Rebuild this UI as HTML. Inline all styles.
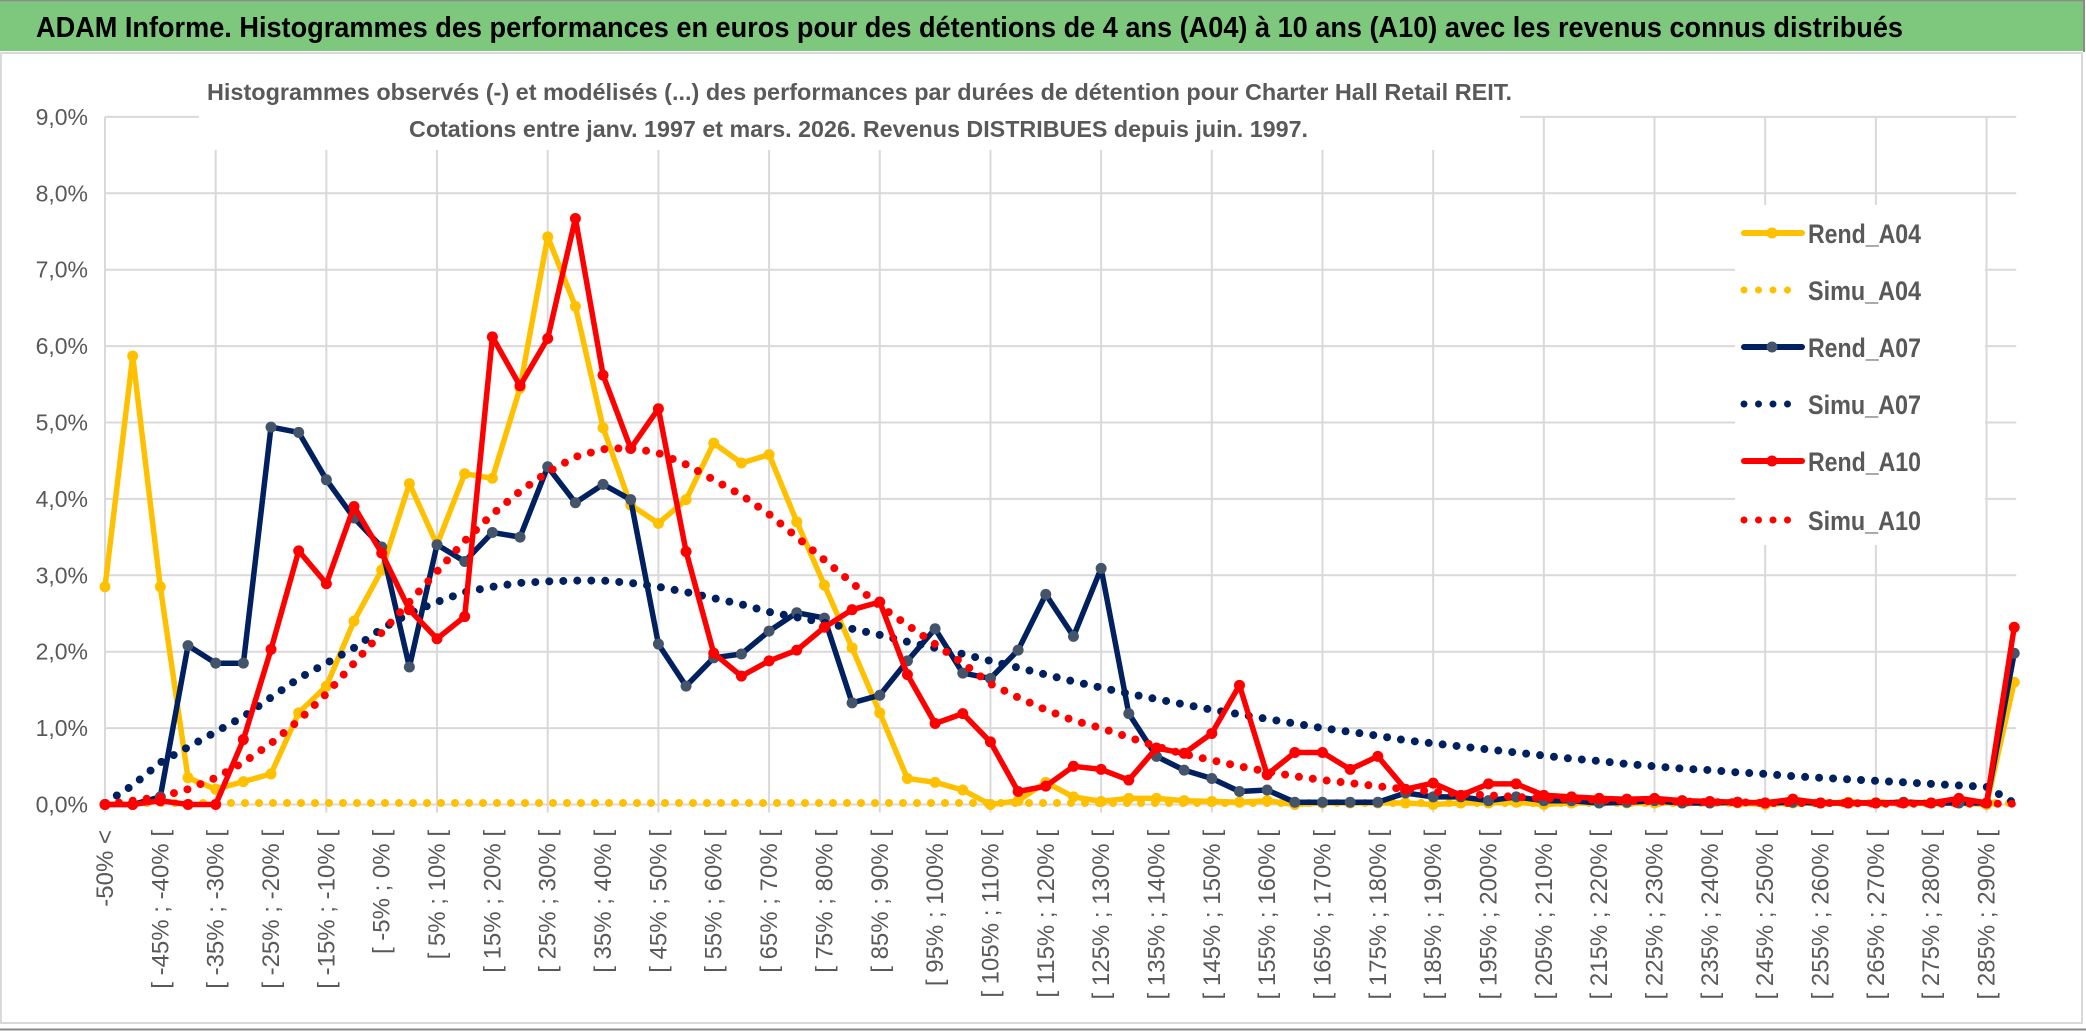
<!DOCTYPE html>
<html><head><meta charset="utf-8"><style>
html,body{margin:0;padding:0;background:#fff;}
svg{display:block;}
text{font-family:"Liberation Sans Narrow","Liberation Sans",sans-serif;}
</style></head><body>
<svg id="chart" width="2086" height="1031" viewBox="0 0 2086 1031" xmlns="http://www.w3.org/2000/svg">
  <rect x="0" y="0" width="2086" height="1031" fill="#fff"/>
  <rect x="0" y="0" width="2083" height="51" fill="#7DC87D"/>
  <line x1="0" y1="0.5" x2="2084" y2="0.5" stroke="#8a8a8a" stroke-width="1.5"/>
  <line x1="2084" y1="0" x2="2084" y2="52" stroke="#8a8a8a" stroke-width="2"/>
  <text x="36" y="37" font-size="29" font-weight="bold" fill="#000" textLength="1867" lengthAdjust="spacingAndGlyphs">ADAM Informe. Histogrammes des performances en euros pour des détentions de 4 ans (A04) à 10 ans (A10) avec les revenus connus distribués</text>
  <rect x="1" y="53" width="2081" height="970" fill="none" stroke="#d9d9d9" stroke-width="2"/>
  <line x1="0" y1="1029.5" x2="2086" y2="1029.5" stroke="#8a8a8a" stroke-width="2"/>
  <g id="grid"></g>
  <g id="yaxis"></g>
  <g id="xaxis"></g>
  <rect x="199" y="70" width="1321" height="80" fill="#fff"/>
  <text x="207" y="100" font-size="23" font-weight="bold" fill="#595959" textLength="1305" lengthAdjust="spacingAndGlyphs">Histogrammes observés (-) et modélisés (...) des performances par durées de détention pour Charter Hall Retail REIT.</text>
  <text x="409" y="137" font-size="23" font-weight="bold" fill="#595959" textLength="899" lengthAdjust="spacingAndGlyphs">Cotations entre janv. 1997 et mars. 2026. Revenus DISTRIBUES depuis juin. 1997.</text>
  <g id="series"></g>
  <g id="legend"></g>
</svg>
<script>
const NS = "http://www.w3.org/2000/svg";
const yTicks = ["0,0%","1,0%","2,0%","3,0%","4,0%","5,0%","6,0%","7,0%","8,0%","9,0%"];
const yTickValues = [0,1,2,3,4,5,6,7,8,9];
const categories = ["-50% <"];
for (let lo = -50; lo < 290; lo += 5) categories.push("[ " + lo + "% ; " + (lo + 5) + "% [");
categories.push("290% >");

const rendA04 = [2.85,5.87,2.85,0.35,0.2,0.3,0.4,1.2,1.55,2.4,3.07,4.2,3.4,4.33,4.27,5.45,7.43,6.52,4.93,3.92,3.68,3.99,4.73,4.47,4.58,3.7,2.87,2.05,1.2,0.34,0.29,0.19,0.0,0.05,0.29,0.1,0.04,0.08,0.08,0.05,0.04,0.03,0.05,0.0,0.02,0.02,0.02,0.02,0.0,0.02,0.02,0.03,0.0,0.02,0.02,0.02,0.02,0.02,0.02,0.02,0.0,0.02,0.02,0.03,0.02,0.02,0.02,0.02,0.0,1.6];
const simuA04 = [0.02,0.02,0.02,0.02,0.02,0.02,0.02,0.02,0.02,0.02,0.02,0.02,0.02,0.02,0.02,0.02,0.02,0.02,0.02,0.02,0.02,0.02,0.02,0.02,0.02,0.02,0.02,0.02,0.02,0.02,0.02,0.02,0.02,0.02,0.02,0.02,0.02,0.02,0.02,0.02,0.02,0.02,0.02,0.02,0.02,0.02,0.02,0.02,0.02,0.02,0.02,0.02,0.02,0.02,0.02,0.02,0.02,0.02,0.02,0.02,0.02,0.02,0.02,0.02,0.02,0.02,0.02,0.02,0.02,0.02];
const rendA07 = [0,0,0.1,2.08,1.85,1.85,4.94,4.87,4.25,3.75,3.37,1.8,3.4,3.18,3.56,3.5,4.42,3.95,4.19,3.99,2.1,1.55,1.92,1.97,2.27,2.51,2.44,1.33,1.43,1.88,2.3,1.72,1.65,2.02,2.75,2.2,3.09,1.19,0.63,0.45,0.34,0.17,0.19,0.03,0.03,0.03,0.03,0.15,0.1,0.1,0.05,0.1,0.05,0.05,0.02,0.03,0.05,0.02,0.02,0.03,0.02,0.03,0.02,0.02,0.02,0.03,0.02,0.02,0.02,1.98];
const simuA07 = [0.02,0.25,0.55,0.75,0.95,1.15,1.4,1.65,1.85,2.05,2.3,2.5,2.65,2.78,2.85,2.9,2.92,2.93,2.93,2.9,2.85,2.78,2.7,2.62,2.52,2.45,2.38,2.3,2.22,2.13,2.05,1.97,1.88,1.79,1.7,1.61,1.53,1.45,1.38,1.31,1.24,1.18,1.12,1.06,1.0,0.95,0.9,0.84,0.8,0.76,0.72,0.68,0.64,0.6,0.57,0.53,0.5,0.47,0.45,0.42,0.4,0.37,0.35,0.33,0.31,0.29,0.27,0.25,0.23,0.02];
const rendA10 = [0,0,0.05,0,0,0.85,2.03,3.32,2.89,3.9,3.29,2.55,2.17,2.46,6.12,5.48,6.1,7.67,5.62,4.66,5.18,3.31,1.98,1.68,1.88,2.02,2.32,2.55,2.65,1.7,1.06,1.19,0.82,0.17,0.24,0.5,0.46,0.32,0.74,0.67,0.93,1.56,0.39,0.68,0.68,0.46,0.63,0.2,0.28,0.12,0.27,0.27,0.12,0.1,0.08,0.07,0.08,0.05,0.04,0.03,0.02,0.07,0.02,0.02,0.02,0.02,0.02,0.08,0.02,2.32];
const simuA10 = [0.0,0.05,0.1,0.2,0.35,0.55,0.8,1.1,1.45,1.85,2.25,2.65,3.05,3.45,3.8,4.1,4.35,4.55,4.65,4.67,4.6,4.45,4.25,4.05,3.8,3.5,3.2,2.9,2.6,2.35,2.1,1.85,1.58,1.4,1.24,1.1,1.0,0.88,0.76,0.66,0.58,0.5,0.43,0.37,0.32,0.28,0.24,0.2,0.17,0.14,0.12,0.1,0.08,0.07,0.06,0.05,0.04,0.04,0.03,0.03,0.02,0.02,0.02,0.02,0.01,0.01,0.01,0.01,0.01,0.01];

const X0 = 105, XSTEP = 27.67, Y0 = 804.5, YUNIT = 76.4;
function xPos(i){ return X0 + XSTEP * i; }
function yPos(v){ return Y0 - YUNIT * v; }
function mk(tag, attrs, parent){ const e = document.createElementNS(NS, tag); for (const k in attrs) e.setAttribute(k, attrs[k]); parent.appendChild(e); return e; }

const grid = document.getElementById("grid");
const xRight = xPos(categories.length - 1) + 2;
yTickValues.forEach(function(v){
  const l = mk("line", {x1: X0, x2: xRight, y1: yPos(v), y2: yPos(v), stroke: "#d9d9d9", "stroke-width": 2}, grid);
  
  
});
for (let i = 0; i < categories.length; i += 4) {
  const l = mk("line", {x1: xPos(i), x2: xPos(i), y1: yPos(9), y2: yPos(0) + 8, stroke: "#d9d9d9", "stroke-width": 2}, grid);
  
  
}

const yaxis = document.getElementById("yaxis");
yTicks.forEach(function(t, k){
  const e = mk("text", {x: 88, y: yPos(yTickValues[k]) + 8, "text-anchor": "end", "font-size": 23, fill: "#595959"}, yaxis);
  e.textContent = t;
  
  
});

const xaxis = document.getElementById("xaxis");
for (let i = 0; i < categories.length - 1; i += 2) {
  const x = xPos(i) + 8, y = 830;
  const e = mk("text", {x: x, y: y, "text-anchor": "end", "font-size": 24, fill: "#595959", transform: "rotate(-90 " + x + " " + y + ")"}, xaxis);
  e.textContent = categories[i];
  
  
}

const seriesG = document.getElementById("series");
function drawSeries(vals, color, dotted, markerFill, name){
  const pts = vals.map(function(v, i){ return xPos(i).toFixed(1) + "," + yPos(v).toFixed(1); }).join(" ");
  const g = mk("g", {}, seriesG);
  
  
  if (dotted) {
    mk("polyline", {points: pts, fill: "none", stroke: color, "stroke-width": 8, "stroke-linecap": "round", "stroke-dasharray": "0 14"}, g);
  } else {
    mk("polyline", {points: pts, fill: "none", stroke: color, "stroke-width": 5.5, "stroke-linejoin": "round"}, g);
    vals.forEach(function(v, i){
      const c = mk("circle", {cx: xPos(i), cy: yPos(v), r: 5.5, fill: markerFill}, g);
      
      
    });
  }
}
drawSeries(rendA04, "#FFC000", false, "#FFC000", "rend-a04-line");
drawSeries(simuA04, "#FFC000", true, null, "simu-a04-line");
drawSeries(rendA07, "#002060", false, "#44546A", "rend-a07-line");
drawSeries(simuA07, "#002060", true, null, "simu-a07-line");
drawSeries(rendA10, "#FF0000", false, "#FF0000", "rend-a10-line");
drawSeries(simuA10, "#FF0000", true, null, "simu-a10-line");

const legend = document.getElementById("legend");
mk("rect", {x: 1735, y: 205, width: 250, height: 340, fill: "#fff"}, legend);
const legendNames = ["Rend_A04","Simu_A04","Rend_A07","Simu_A07","Rend_A10","Simu_A10"];
const legendColors = ["#FFC000","#FFC000","#002060","#002060","#FF0000","#FF0000"];
const legendMarkers = ["#FFC000",null,"#44546A",null,"#FF0000",null];
const legendY = [233,290,347,404,461,520];
legendNames.forEach(function(n, k){
  const g = mk("g", {}, legend);
  
  
  const y = legendY[k];
  if (legendMarkers[k]) {
    mk("line", {x1: 1744, x2: 1802, y1: y, y2: y, stroke: legendColors[k], "stroke-width": 6, "stroke-linecap": "round"}, g);
    mk("circle", {cx: 1772, cy: y, r: 5.5, fill: legendMarkers[k]}, g);
  } else {
    mk("line", {x1: 1744, x2: 1802, y1: y, y2: y, stroke: legendColors[k], "stroke-width": 7, "stroke-linecap": "round", "stroke-dasharray": "0 14.5"}, g);
  }
  const t = mk("text", {x: 1808, y: y + 10, "font-size": 27, "font-weight": "bold", fill: "#595959", textLength: 113, lengthAdjust: "spacingAndGlyphs"}, g);
  t.textContent = n;
});
</script>
</body></html>
